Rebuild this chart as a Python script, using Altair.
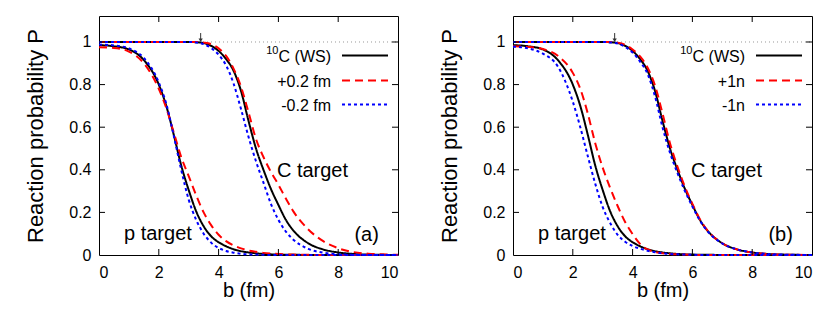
import altair as alt
import pandas as pd

FONT = "Liberation Sans"

# impact parameter grid (fm)
B = [0, 0.5, 1, 1.5, 2, 2.25, 2.5, 2.75, 3, 3.25, 3.5, 3.75, 4, 4.25, 4.5, 4.75,
     5, 5.25, 5.5, 5.75, 6, 6.25, 6.5, 7, 7.5, 8, 8.5, 9, 10]

# ---- p target ----
P_WS = [0.985, 0.980, 0.965, 0.915, 0.80, 0.70, 0.565, 0.42, 0.305, 0.205, 0.135, 0.088,
        0.060, 0.041, 0.027, 0.018, 0.012, 0.008, 0.005, 0.003, 0.002, 0.001, 0.001,
        0, 0, 0, 0, 0, 0]
P_A_PLUS = [0.975, 0.972, 0.955, 0.90, 0.78, 0.69, 0.575, 0.46, 0.37, 0.28, 0.20, 0.14,
            0.095, 0.065, 0.045, 0.031, 0.021, 0.015, 0.010, 0.007, 0.005, 0.003, 0.002,
            0.001, 0, 0, 0, 0, 0]
P_A_MINUS = [0.988, 0.984, 0.97, 0.925, 0.81, 0.71, 0.56, 0.40, 0.26, 0.165, 0.10, 0.058,
             0.033, 0.019, 0.011, 0.006, 0.003, 0.002, 0.001, 0, 0, 0, 0,
             0, 0, 0, 0, 0, 0]
P_B_PLUS = [0.98, 0.977, 0.967, 0.935, 0.855, 0.78, 0.665, 0.525, 0.41, 0.315, 0.23, 0.155,
            0.098, 0.052, 0.026, 0.014, 0.008, 0.005, 0.003, 0.002, 0.001, 0, 0,
            0, 0, 0, 0, 0, 0]
P_B_MINUS = [0.978, 0.970, 0.945, 0.885, 0.72, 0.60, 0.465, 0.335, 0.225, 0.15, 0.095, 0.062,
             0.042, 0.030, 0.020, 0.013, 0.008, 0.005, 0.003, 0.002, 0.001, 0, 0,
             0, 0, 0, 0, 0, 0]

# ---- C target ----
C_WS = [1, 1, 1, 1, 1, 1, 1, 1, 1, 0.999, 0.995, 0.982, 0.958, 0.92, 0.865, 0.77,
        0.63, 0.50, 0.40, 0.31, 0.235, 0.165, 0.115, 0.055, 0.026, 0.012, 0.005, 0.002, 0]
C_A_PLUS = [1, 1, 1, 1, 1, 1, 1, 1, 1, 1, 0.997, 0.99, 0.97, 0.935, 0.875, 0.79,
            0.67, 0.545, 0.46, 0.39, 0.33, 0.265, 0.205, 0.12, 0.065, 0.032, 0.014, 0.006, 0.001]
C_A_MINUS = [1, 1, 1, 1, 1, 1, 1, 1, 1, 0.998, 0.99, 0.972, 0.94, 0.89, 0.805, 0.685,
             0.555, 0.44, 0.34, 0.24, 0.165, 0.11, 0.072, 0.029, 0.011, 0.004, 0.001, 0, 0]
C_B_PLUS = [1, 1, 1, 1, 1, 1, 1, 1, 1, 1, 0.997, 0.987, 0.965, 0.932, 0.88, 0.795,
            0.665, 0.525, 0.415, 0.32, 0.24, 0.168, 0.116, 0.055, 0.026, 0.012, 0.005, 0.002, 0]
C_B_MINUS = [1, 1, 1, 1, 1, 1, 1, 1, 1, 0.998, 0.993, 0.977, 0.95, 0.908, 0.85, 0.745,
             0.60, 0.48, 0.385, 0.30, 0.228, 0.162, 0.113, 0.054, 0.026, 0.012, 0.005, 0.002, 0]

SERIES = ["ws", "plus", "minus"]
COLORS = ["#000000", "#ff0000", "#0000ff"]
DASHES = [[1, 0], [8, 5], [3, 3]]

X_TICKS = [0, 2, 4, 6, 8, 10]
Y_TICKS = [0, 0.2, 0.4, 0.6, 0.8, 1]
X_INNER = [2, 4, 6, 8]
Y_INNER = [0.2, 0.4, 0.6, 0.8, 1.0]

LEG_A = ["C (WS)", "+0.2 fm", "-0.2 fm"]
LEG_B = ["C (WS)", "+1n", "-1n"]
ANN_TEXT_A = ["C target", "p target", "(a)"]
ANN_TEXT_B = ["C target", "p target", "(b)"]
ANN_X = [7.14, 1.97, 8.95]
ANN_Y = [0.368, 0.069, 0.066]
ARROW_B = 3.4

W, H = 299, 239
XS = alt.Scale(domain=[0, 10], nice=False, zero=False)
YS = alt.Scale(domain=[0, 1.122], nice=False, zero=False)
XAX = alt.Axis(values=X_TICKS, title="b (fm)", ticks=False, domain=False, grid=False,
               labelPadding=9, titlePadding=0, titleFontSize=20)
YAX = alt.Axis(values=Y_TICKS, format="~g", title="Reaction probability P", ticks=False,
               domain=False, grid=False, labelPadding=8, titlePadding=21, titleFontSize=22)


def X(f):
    return alt.X(f, type="quantitative", scale=XS, axis=XAX)


def Y(f):
    return alt.Y(f, type="quantitative", scale=YS, axis=YAX)


def panel(p_curves, c_curves, legend, ann):
    rows = []
    for i, s in enumerate(SERIES):
        for tgt, vals in (("p", p_curves[i]), ("C", c_curves[i])):
            for b, p in zip(B, vals):
                rows.append({"b": b, "P": p, "series": s, "target": tgt, "k": i})
    df = pd.DataFrame(rows)

    ref = alt.Chart(pd.DataFrame({"y": [1.0]})).mark_rule(
        color="#999999", strokeWidth=1, strokeDash=[1, 3]
    ).encode(y=Y("y"), x=alt.value(0), x2=alt.value(W))

    lines = alt.Chart(df).mark_line(strokeWidth=2, interpolate="monotone").encode(
        x=X("b"), y=Y("P"),
        color=alt.Color("series:N", scale=alt.Scale(domain=SERIES, range=COLORS), legend=None),
        strokeDash=alt.StrokeDash("series:N", scale=alt.Scale(domain=SERIES, range=DASHES), legend=None),
        detail="target:N",
    )

    xt = pd.DataFrame({"b": X_INNER})
    yt = pd.DataFrame({"P": Y_INNER})
    tick_b = alt.Chart(xt).mark_rule(color="black", strokeWidth=1).encode(
        x=X("b"), y=alt.value(H), y2=alt.value(H - 6))
    tick_t = alt.Chart(xt).mark_rule(color="black", strokeWidth=1).encode(
        x=X("b"), y=alt.value(0), y2=alt.value(6))
    tick_l = alt.Chart(yt).mark_rule(color="black", strokeWidth=1).encode(
        y=Y("P"), x=alt.value(0), x2=alt.value(6))
    tick_r = alt.Chart(yt).mark_rule(color="black", strokeWidth=1).encode(
        y=Y("P"), x=alt.value(W), x2=alt.value(W - 6))

    arr = pd.DataFrame({"b": [ARROW_B], "P": [1.042], "P2": [1.008]})
    arrow = alt.Chart(arr).mark_rule(color="#333333", strokeWidth=1).encode(
        x=X("b"), y=Y("P"), y2="P2:Q")
    head = alt.Chart(arr).mark_point(shape="triangle-down", filled=True, size=18,
                                     color="#333333", opacity=1).encode(
        x=X("b"), y=alt.Y("P2:Q", scale=YS, axis=YAX))

    adf = pd.DataFrame({"b": ANN_X, "P": ANN_Y, "t": ann})
    annot = alt.Chart(adf).mark_text(font=FONT, fontSize=20, align="center",
                                     baseline="alphabetic", color="black").encode(
        x=X("b"), y=Y("P"), text="t:N")

    leg_layers = []
    row_y = [39.5, 64.5, 88.5]
    for i in range(3):
        leg_layers.append(alt.Chart(pd.DataFrame({"t": [legend[i]]})).mark_text(
            font=FONT, fontSize=16, align="right", baseline="middle", color="black"
        ).encode(x=alt.value(232), y=alt.value(row_y[i] + 1), text="t:N"))
        leg_layers.append(alt.Chart(pd.DataFrame({"t": [legend[i]]})).mark_rule(
            color=COLORS[i], strokeWidth=2, strokeDash=DASHES[i]
        ).encode(x=alt.value(243), x2=alt.value(289), y=alt.value(row_y[i])))
    sup = alt.Chart(pd.DataFrame({"t": ["10"]})).mark_text(
        font=FONT, fontSize=11, align="right", baseline="alphabetic", color="black"
    ).encode(x=alt.value(179.5), y=alt.value(38), text="t:N")

    return alt.layer(ref, lines, tick_b, tick_t, tick_l, tick_r, arrow, head, annot,
                     *leg_layers, sup).properties(width=W, height=H)


left = panel([P_WS, P_A_PLUS, P_A_MINUS], [C_WS, C_A_PLUS, C_A_MINUS], LEG_A, ANN_TEXT_A)
right = panel([P_WS, P_B_PLUS, P_B_MINUS], [C_WS, C_B_PLUS, C_B_MINUS], LEG_B, ANN_TEXT_B)

chart = alt.hconcat(left, right, spacing=35).properties(
    padding={"left": 16, "top": 7, "right": 5, "bottom": 5}
).configure_view(stroke="black", strokeWidth=1).configure_axis(
    labelFont=FONT, titleFont=FONT, labelFontSize=16,
    labelColor="black", titleColor="black", titleFontWeight="normal"
)

chart.save("out.html", embed_options={"renderer": "svg", "actions": False})
